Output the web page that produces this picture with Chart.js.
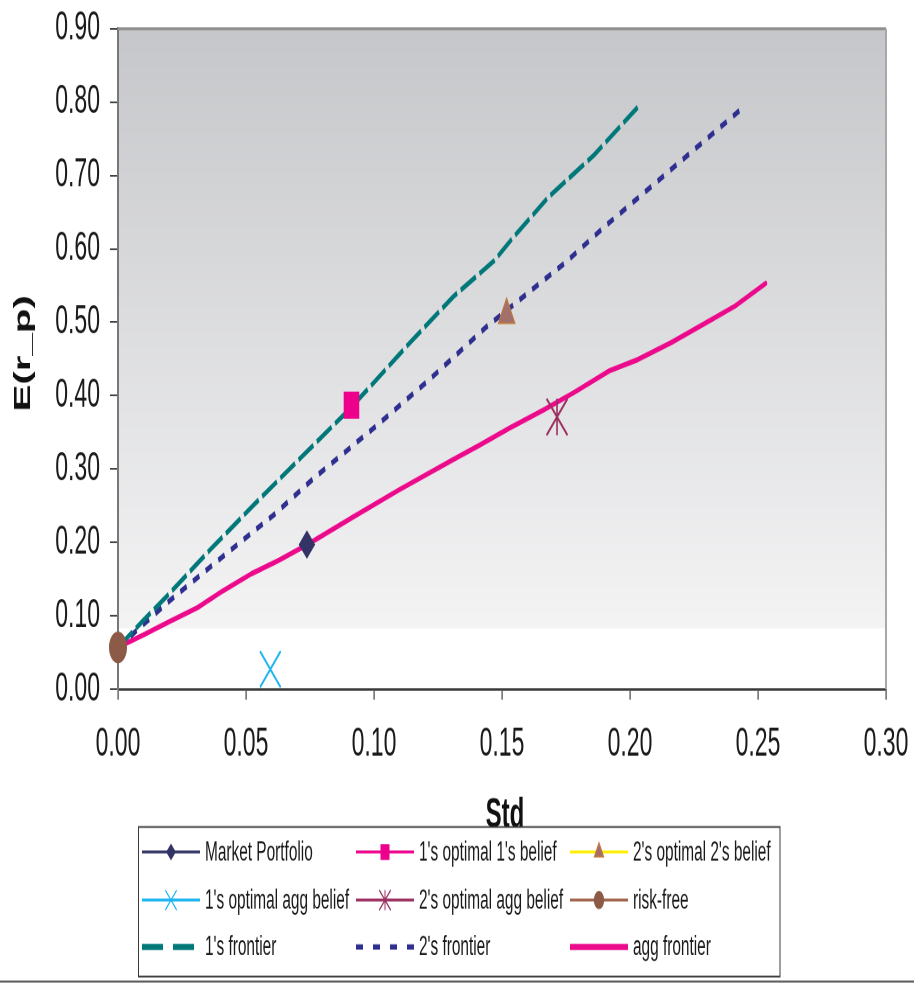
<!DOCTYPE html>
<html lang="en">
<head>
<meta charset="UTF-8">
<title>E(r_p) vs Std</title>
<style>
    html, body { margin: 0; padding: 0; background: #fff; }
    body { width: 914px; height: 983px; position: relative; }
    /* the chart is drawn short and stretched tall, like the old spreadsheet export */
    #moldura { position: absolute; left: 0; top: 0; width: 914px; height: 562px; transform: scaleY(1.7491); transform-origin: 0 0; }
</style>
</head>
<body>
<div id="moldura"><canvas id="grafico" width="914" height="562"></canvas></div>

<script src="https://cdn.jsdelivr.net/npm/chart.js"></script>
<script>
    // single points
    const nomes = ["Market Portfolio", "1's optimal 1's belief", "2's optimal 2's belief",
        "1's optimal agg belief", "2's optimal agg belief", "risk-free",
        "1's frontier", "2's frontier", "agg frontier"];
    const pontoStd = [0.0738, 0.0912, 0.1518, 0.0595, 0.1715, 0.0];
    const pontoRet = [0.197, 0.387, 0.510, 0.027, 0.371, 0.057];

    // frontiers
    const front1Std = [0, 0.010, 0.020, 0.036, 0.053, 0.071, 0.090, 0.100, 0.114, 0.131, 0.147, 0.154, 0.168, 0.186, 0.203];
    const front1Ret = [0.057, 0.094, 0.130, 0.190, 0.251, 0.314, 0.380, 0.418, 0.472, 0.535, 0.584, 0.614, 0.670, 0.728, 0.793];
    const front2Std = [0, 0.020, 0.040, 0.061, 0.076, 0.101, 0.122, 0.144, 0.163, 0.175, 0.190, 0.208, 0.226, 0.244];
    const front2Ret = [0.057, 0.120, 0.178, 0.238, 0.286, 0.359, 0.423, 0.494, 0.548, 0.582, 0.630, 0.684, 0.738, 0.792];
    const aggStd = [0, 0.010, 0.020, 0.031, 0.041, 0.052, 0.063, 0.074, 0.092, 0.110, 0.131, 0.141, 0.153, 0.166, 0.178, 0.192, 0.203, 0.216, 0.228, 0.241, 0.253];
    const aggRet = [0.057, 0.074, 0.092, 0.111, 0.134, 0.157, 0.176, 0.197, 0.235, 0.272, 0.313, 0.332, 0.356, 0.380, 0.404, 0.434, 0.449, 0.472, 0.496, 0.522, 0.553];

    const xMax = 0.30, xPasso = 0.05;
    const yMax = 0.90, yPasso = 0.10;

    const fonte = "'Liberation Sans', Arial, sans-serif";

    function pares(xs, ys) {
        return xs.map((x, i) => ({ x: x, y: ys[i] }));
    }

    function ponto(i, extra) {
        return Object.assign({
            label: nomes[i],
            data: [{ x: pontoStd[i], y: pontoRet[i] }],
            showLine: false,
            clip: false,
            pointBorderWidth: 1
        }, extra);
    }

    const datasets = [
        ponto(0, { borderColor: '#333366', pointStyle: 'rectRot', pointRadius: 7.5,
            pointBackgroundColor: '#333366', pointBorderColor: '#333366' }),
        ponto(1, { borderColor: '#ec008c', pointStyle: 'rect', pointRadius: 10.3,
            pointBackgroundColor: '#ec008c', pointBorderColor: '#ec008c' }),
        ponto(2, { borderColor: '#ffee00', pointStyle: 'triangle', pointRadius: 9.5,
            pointBackgroundColor: '#a2706c', pointBorderColor: '#c0783c' }),
        ponto(3, { borderColor: '#1cb4f0', pointStyle: 'crossRot', pointRadius: 14.6,
            pointBorderColor: '#1cb4f0', pointBorderWidth: 1.6 }),
        ponto(4, { borderColor: '#9b2f60', pointStyle: 'crossRot', pointRadius: 14.8,
            pointBorderColor: '#9b2f60', pointBorderWidth: 1.6 }),
        // vertical stroke of the star marker
        ponto(4, { borderColor: '#9b2f60', pointStyle: 'line', pointRotation: 90, pointRadius: 10.5,
            pointBorderColor: '#9b2f60', pointBorderWidth: 1.6, semLegenda: true }),
        ponto(5, { borderColor: '#a0644a', pointStyle: 'circle', pointRadius: 8.5,
            pointBackgroundColor: '#8c5a46', pointBorderColor: '#8c5a46' }),
        {
            label: nomes[6], data: pares(front1Std, front1Ret), showLine: true, pointRadius: 0,
            borderColor: '#00787a', borderWidth: 3, borderDash: [17, 4], borderCapStyle: 'butt',
            legDash: [21, 10], legLargura: 3.5
        },
        {
            label: nomes[7], data: pares(front2Std, front2Ret), showLine: true, pointRadius: 0,
            borderColor: '#2e2f8f', borderWidth: 3.2, borderDash: [7, 7], borderCapStyle: 'butt',
            legDash: [7, 10], legLargura: 3
        },
        {
            label: nomes[8], data: pares(aggStd, aggRet), showLine: true, pointRadius: 0,
            borderColor: '#ec0a8c', borderWidth: 3, borderCapStyle: 'round', borderJoinStyle: 'round',
            legLargura: 3.5
        }
    ];

    // grey fill of the plot area with a white band at the bottom
    const fundoPlugin = {
        id: 'fundoCinza',
        beforeDraw(chart) {
            const { ctx, chartArea: a } = chart;
            const corte = a.top + a.height * 0.908;
            const g = ctx.createLinearGradient(0, a.top, 0, corte);
            g.addColorStop(0, '#c6c7ca');
            g.addColorStop(1, '#f4f4f5');
            ctx.save();
            ctx.fillStyle = g;
            ctx.fillRect(a.left, a.top, a.width, corte - a.top);
            ctx.restore();
        },
        beforeDatasetsDraw(chart) {
            const { ctx, chartArea: a } = chart;
            ctx.save();
            ctx.lineWidth = 1.6;
            ctx.strokeStyle = '#8e8e8e';
            ctx.beginPath();
            ctx.moveTo(a.left, a.top);
            ctx.lineTo(a.right, a.top);
            ctx.stroke();
            ctx.strokeStyle = '#a8a8a8';
            ctx.lineWidth = 2;
            ctx.beginPath();
            ctx.moveTo(a.right, a.top);
            ctx.lineTo(a.right, a.bottom);
            ctx.stroke();
            ctx.restore();
        }
    };

    // axis titles, legend grid and the bottom rule
    const legendaPlugin = {
        id: 'legendaGrade',
        afterDraw(chart) {
            const ctx = chart.ctx;
            ctx.save();

            ctx.fillStyle = '#111';
            ctx.font = 'bold 24px ' + fonte;
            ctx.textAlign = 'center';
            ctx.textBaseline = 'alphabetic';
            ctx.fillText('Std', 505, 473);

            ctx.save();
            ctx.translate(30, 202);
            ctx.rotate(-Math.PI / 2);
            ctx.font = 'bold 23px ' + fonte;
            ctx.fillText('E(r_p)', 0, 0);
            ctx.restore();

            ctx.strokeStyle = '#3a3a3a';
            ctx.lineWidth = 1;
            ctx.strokeRect(138.5, 472.8, 641.5, 85.5);

            const colunas = [142, 356, 570];
            const linhas = [487.1, 514.6, 541.4];
            const itens = chart.data.datasets.filter(d => !d.semLegenda);

            itens.forEach((ds, i) => {
                const x0 = colunas[i % 3];
                const y0 = linhas[Math.floor(i / 3)];

                ctx.save();
                ctx.strokeStyle = ds.borderColor;
                ctx.lineWidth = ds.legLargura || 1.6;
                ctx.setLineDash(ds.legDash || []);
                ctx.lineCap = 'butt';
                ctx.beginPath();
                ctx.moveTo(x0, y0);
                ctx.lineTo(x0 + 58, y0);
                ctx.stroke();
                ctx.restore();

                chart.data.datasets.filter(d => d.label === ds.label && d.pointStyle).forEach(d => {
                    ctx.save();
                    ctx.fillStyle = d.pointBackgroundColor || d.pointBorderColor;
                    ctx.strokeStyle = d.pointBorderColor;
                    Chart.helpers.drawPoint(ctx, {
                        pointStyle: d.pointStyle,
                        rotation: d.pointRotation || 0,
                        radius: d.pointRadius * 0.55,
                        borderWidth: d.pointBorderWidth
                    }, x0 + 29, y0);
                    ctx.restore();
                });

                ctx.fillStyle = '#1a1a1a';
                ctx.font = '15.4px ' + fonte;
                ctx.textAlign = 'left';
                ctx.textBaseline = 'middle';
                ctx.fillText(ds.label, x0 + 63, y0 + 0.5);
            });

            ctx.strokeStyle = '#555';
            ctx.lineWidth = 1.2;
            ctx.beginPath();
            ctx.moveTo(0, 561.2);
            ctx.lineTo(914, 561.2);
            ctx.stroke();

            ctx.restore();
        }
    };

    new Chart(document.getElementById('grafico'), {
        type: 'scatter',
        data: { datasets: datasets },
        options: {
            responsive: false,
            devicePixelRatio: 2,
            animation: false,
            layout: { padding: { top: 13, right: 28, bottom: 0, left: 0 } },
            plugins: {
                legend: { display: false },
                tooltip: { enabled: false }
            },
            elements: { line: { tension: 0 } },
            scales: {
                x: {
                    type: 'linear',
                    min: 0,
                    max: xMax,
                    afterFit: (s) => { s.height = 168; s.paddingLeft = 0; s.paddingRight = 0; },
                    ticks: {
                        stepSize: xPasso,
                        maxRotation: 0,
                        padding: 13,
                        color: '#1a1a1a',
                        font: { family: fonte, size: 23, lineHeight: 1.1 },
                        callback: (v) => v.toFixed(2)
                    },
                    grid: { drawOnChartArea: false, drawTicks: true, tickLength: 6, color: '#444', lineWidth: 1.2 },
                    border: { display: true, color: '#3a3a3a', width: 1.4 }
                },
                y: {
                    type: 'linear',
                    min: 0,
                    max: yMax,
                    afterFit: (s) => { s.width = 118; s.paddingTop = 0; s.paddingBottom = 0; },
                    ticks: {
                        stepSize: yPasso,
                        padding: 10,
                        color: '#1a1a1a',
                        font: { family: fonte, size: 23, lineHeight: 1.1 },
                        callback: (v) => v.toFixed(2)
                    },
                    grid: { drawOnChartArea: false, drawTicks: true, tickLength: 8, color: '#444', lineWidth: 1 },
                    border: { display: true, color: '#777', width: 2 }
                }
            }
        },
        plugins: [fundoPlugin, legendaPlugin]
    });
</script>
</body>
</html>
